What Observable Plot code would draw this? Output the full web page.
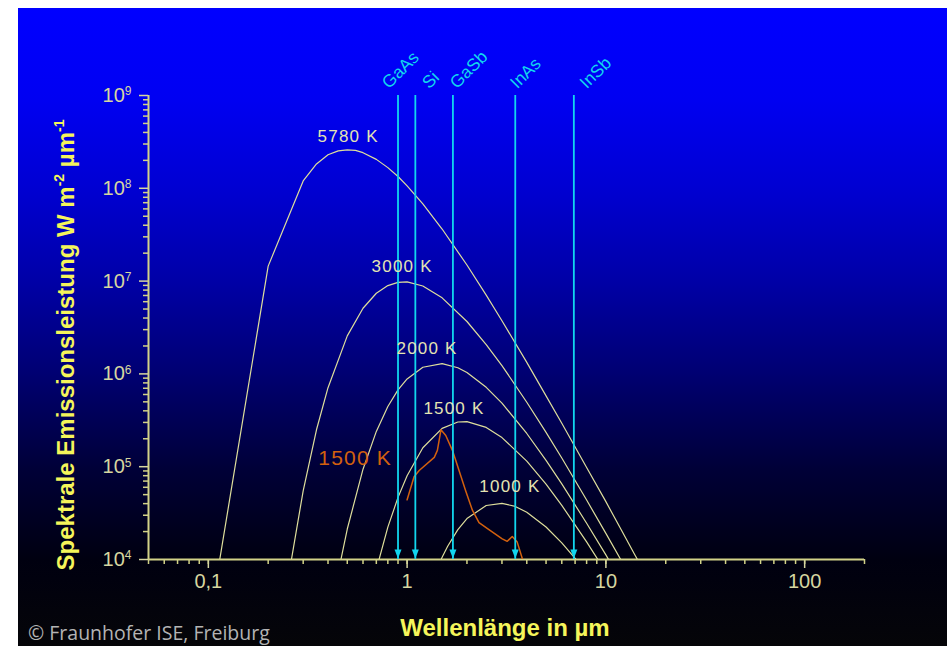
<!DOCTYPE html>
<html><head><meta charset="utf-8">
<script src="https://cdn.jsdelivr.net/npm/d3@7"></script>
<script src="https://cdn.jsdelivr.net/npm/@observablehq/plot@0.6"></script>
<style>
html,body{margin:0;padding:0;background:#fff;}
#wrap{position:relative;width:947px;height:646px;overflow:hidden;background:#fff;}
#bg{position:absolute;left:18px;top:8px;width:929px;height:638px;
 background:linear-gradient(to bottom,#0000ff 0px,#0000f2 90px,#0000d2 180px,#0000a8 270px,#000072 365px,#000038 460px,#000010 552px,#050508 638px);}
#chart{position:absolute;left:0;top:0;}
#ylabel{position:absolute;left:66px;top:345px;transform:translate(-50%,-50%) rotate(-90deg);white-space:nowrap;
 font:bold 24px "Liberation Sans",Arial,sans-serif;color:#f5f55a;}
#ylabel sup{font-size:14px;vertical-align:10px;line-height:0;}
#xlabel{position:absolute;left:505px;top:628px;transform:translate(-50%,-50%);white-space:nowrap;
 font:bold 24px "Liberation Sans",Arial,sans-serif;color:#f5f55a;}
#copy{position:absolute;left:28px;top:632px;transform:translateY(-50%);white-space:nowrap;
 font:19.5px "Open Sans",sans-serif;color:#b4b4b4;}
</style></head>
<body>
<div id="wrap">
 <div id="bg"></div>
 <div id="chart"></div>
 <div id="ylabel">Spektrale Emissionsleistung W m<sup>-2</sup> µm<sup>-1</sup></div>
 <div id="xlabel">Wellenlänge in µm</div>
 <div id="copy">© Fraunhofer ISE, Freiburg</div>
</div>
<script>
// ---- data ----
const lambda5780 = [0.1, 0.2, 0.3, 0.35, 0.4, 0.45, 0.5, 0.55, 0.6, 0.7, 0.8, 0.9, 1.0, 1.2, 1.5, 2, 2.5, 3, 4, 5, 6, 8, 10, 12, 14, 16];
const value5780  = [1.8e3, 1.45e7, 1.2e8, 1.83e8, 2.3e8, 2.53e8, 2.6e8, 2.56e8, 2.42e8, 2.05e8, 1.67e8, 1.34e8, 1.06e8, 6.8e7, 3.64e7, 1.49e7, 7.05e6, 3.74e6, 1.33e6, 5.8e5, 2.94e5, 9.8e4, 4.2e4, 2.05e4, 1.12e4, 6.7e3];

const lambda3000 = [0.25, 0.3, 0.35, 0.4, 0.5, 0.6, 0.7, 0.8, 0.9, 1.0, 1.2, 1.5, 2, 2.5, 3, 4, 5, 6, 8, 10, 12, 14];
const value3000  = [5.6e3, 5.5e4, 2.5e5, 7.1e5, 2.57e6, 5.1e6, 7.4e6, 8.95e6, 9.7e6, 9.8e6, 8.85e6, 6.6e6, 3.67e6, 2.07e6, 1.23e6, 4.95e5, 2.34e5, 1.24e5, 4.37e4, 1.91e4, 9.6e3, 5.35e3];

const lambda2000 = [0.45, 0.5, 0.6, 0.7, 0.8, 0.9, 1.0, 1.2, 1.5, 1.8, 2, 2.5, 3, 4, 5, 6, 8, 10, 12];
const value2000  = [7.2e3, 2.13e4, 9.4e4, 2.4e5, 4.46e5, 6.72e5, 8.83e5, 1.18e6, 1.29e6, 1.165e6, 1.035e6, 7.17e5, 4.84e5, 2.28e5, 1.17e5, 6.53e4, 2.46e4, 1.12e4, 5.75e3];

const lambda1500 = [0.7, 0.8, 0.9, 1.0, 1.2, 1.5, 1.8, 2, 2.5, 3, 4, 5, 6, 8, 10];
const value1500  = [7.8e3, 2.23e4, 4.67e4, 8.0e4, 1.6e5, 2.59e5, 3.03e5, 3.06e5, 2.65e5, 2.06e5, 1.15e5, 6.5e4, 3.83e4, 1.55e4, 7.3e3];

const lambda1000 = [1.4, 1.5, 1.6, 1.8, 2, 2.5, 3, 3.5, 4, 5, 6, 7, 8];
const value1000  = [7.5e3, 1.06e4, 1.39e4, 2.1e4, 2.76e4, 3.82e4, 4.03e4, 3.73e4, 3.23e4, 2.24e4, 1.51e4, 1.03e4, 7.1e3];

// measured emitter (orange)
const lambdaMeasured = [1.0, 1.084, 1.15, 1.37, 1.42, 1.48, 1.565, 1.69, 1.825, 1.97, 2.13, 2.3, 2.58, 3.01, 3.19, 3.38, 3.58, 3.8];
const valueMeasured  = [4.4e4, 7.8e4, 9.1e4, 1.26e5, 1.5e5, 2.5e5, 2.17e5, 1.5e5, 9.1e4, 5.5e4, 3.4e4, 2.5e4, 2.1e4, 1.67e4, 1.57e4, 1.77e4, 1.54e4, 1.02e4];
const measuredLabel = "1500 K";
const measuredLabelLambda = 0.548;
const measuredLabelValue = 1.22e5;

// band edges of the cells
const materials = ["GaAs", "Si", "GaSb", "InAs", "InSb"];
const bandEdges = [0.9, 1.1, 1.7, 3.5, 6.9];

// temperature labels
const tempLabels = ["5780 K", "3000 K", "2000 K", "1500 K", "1000 K"];
const tempLabelLambda = [0.505, 0.944, 1.26, 1.72, 3.29];
const tempLabelValue = [3.6e8, 1.44e7, 1.88e6, 4.24e5, 6.1e4];

// axes
const xDomain = [0.05, 200];
const yDomain = [1e4, 1e9];
const xMajor = [0.1, 1, 10, 100];
const xTickLabels = ["0,1", "1", "10", "100"];
const yMajor = [1e4, 1e5, 1e6, 1e7, 1e8, 1e9];
const yTickExp = ["4", "5", "6", "7", "8", "9"];

// ---- build ----
const series = [
  {name: "5780 K", l: lambda5780, v: value5780},
  {name: "3000 K", l: lambda3000, v: value3000},
  {name: "2000 K", l: lambda2000, v: value2000},
  {name: "1500 K", l: lambda1500, v: value1500},
  {name: "1000 K", l: lambda1000, v: value1000}
];
const rows = series.flatMap(s => s.l.map((l, i) => ({series: s.name, lambda: l, value: s.v[i]})));
const measured = lambdaMeasured.map((l, i) => ({lambda: l, value: valueMeasured[i]}));

const xMinor = [];
for (let e = -2; e <= 2; e++) for (let m = 1; m <= 9; m++) {
  const v = m * Math.pow(10, e);
  if (v >= xDomain[0] - 1e-9 && v <= xDomain[1] + 1e-9) xMinor.push(+v.toPrecision(3));
}
const yMinor = [];
for (let e = 4; e <= 8; e++) for (let m = 2; m <= 9; m++) yMinor.push(m * Math.pow(10, e));

const axisColor = "#d2d288";
const curveColor = "#dede9c";
const cyan = "#12d6ee";
const orange = "#d2600e";
const font = "Liberation Sans, Arial, sans-serif";
// pixel nudges of the rotated material labels (layout only)
const materialLabelNudge = {GaAs: -9, Si: 14, GaSb: 4, InAs: 2, InSb: 13};

const triDown = {draw(ctx) { ctx.moveTo(-3.5, -5); ctx.lineTo(3.5, -5); ctx.lineTo(0, 4); ctx.closePath(); }};

const chart = Plot.plot({
  width: 947, height: 646,
  marginLeft: 148, marginRight: 83, marginTop: 95, marginBottom: 87,
  style: {background: "transparent", fontFamily: font, overflow: "visible"},
  x: {type: "log", domain: xDomain},
  y: {type: "log", domain: yDomain},
  marks: [
    Plot.axisX({ticks: xMinor, tickSize: 5, tickFormat: () => "", color: axisColor, strokeWidth: 1.5, label: null}),
    Plot.axisX({ticks: xMajor, tickSize: 9, tickPadding: 5, tickFormat: d => xTickLabels[xMajor.indexOf(d)], color: "#d6d6a0", fontSize: 20, strokeWidth: 1.5, label: null}),
    Plot.axisY({ticks: yMinor, tickSize: 5, tickFormat: () => "", color: axisColor, strokeWidth: 1.5, label: null}),
    Plot.axisY({ticks: yMajor, tickSize: 9, tickPadding: 8, tickFormat: d => "10^" + yTickExp[yMajor.indexOf(d)], color: "#d6d6a0", fontSize: 20, strokeWidth: 1.5, label: null}),
    Plot.ruleY([yDomain[0]], {stroke: axisColor, strokeWidth: 2}),
    Plot.ruleX([xDomain[0]], {stroke: axisColor, strokeWidth: 2}),
    Plot.line(rows, {x: "lambda", y: "value", z: "series", stroke: curveColor, strokeWidth: 1.2, clip: true}),
    Plot.line(measured, {x: "lambda", y: "value", stroke: orange, strokeWidth: 1.5, clip: true}),
    Plot.ruleX(bandEdges, {x: d => d, y1: yDomain[0], y2: yDomain[1], stroke: cyan, strokeWidth: 1.8}),
    Plot.dot(bandEdges, {x: d => d, y: yDomain[0], symbol: triDown, r: 4, dy: -5, fill: cyan, stroke: "none"}),
    Plot.text(materials, {x: bandEdges, y: bandEdges.map(() => yDomain[1]), text: d => d, rotate: -45, textAnchor: "start", lineAnchor: "bottom", dy: -6, fontSize: 17.5, fill: cyan}),
    Plot.text(tempLabels, {x: tempLabelLambda, y: tempLabelValue, text: d => d, fontSize: 17, fill: "#e4e4b2"}),
    Plot.text([measuredLabel], {x: [measuredLabelLambda], y: [measuredLabelValue], text: d => d, fontSize: 21, fill: orange})
  ]
});

chart.querySelectorAll("text").forEach(t => {
  const s = t.textContent;
  if (s.startsWith("10^")) {
    // superscript exponents on y tick labels
    const exp = s.slice(3);
    t.textContent = "10";
    const ts = document.createElementNS("http://www.w3.org/2000/svg", "tspan");
    ts.setAttribute("dy", "-0.55em");
    ts.setAttribute("font-size", "12");
    ts.textContent = exp;
    t.appendChild(ts);
  } else if (s in materialLabelNudge) {
    const tr = t.getAttribute("transform") || "";
    t.setAttribute("transform", `translate(${materialLabelNudge[s]},0) ` + tr);
  } else if (tempLabels.includes(s)) {
    t.setAttribute("letter-spacing", "1.2");
  }
});

document.getElementById("chart").appendChild(chart);
</script>
</body></html>
